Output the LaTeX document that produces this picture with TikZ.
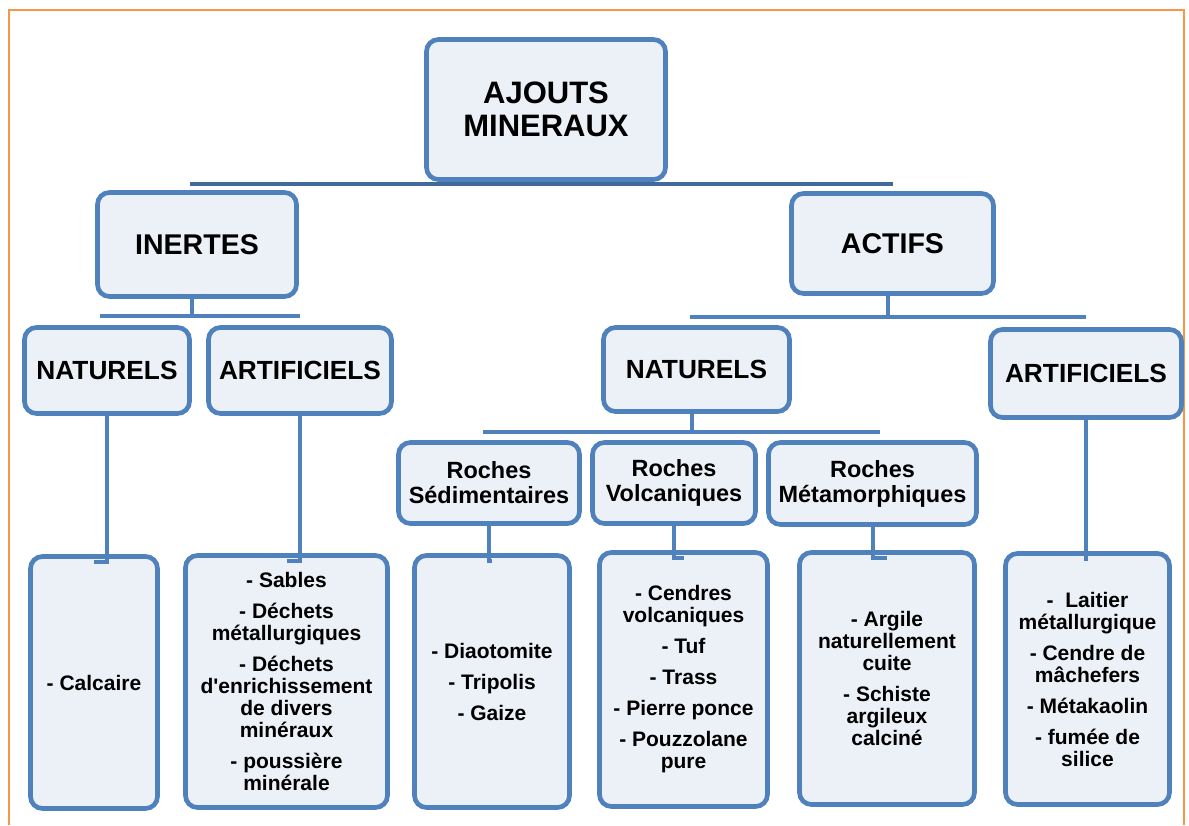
\documentclass[tikz,border=0pt]{standalone}
\usepackage{fontspec}
\setmainfont{Liberation Sans}

\definecolor{boxline}{HTML}{4F81BD}
\definecolor{boxfill}{HTML}{ECF1F8}
\definecolor{busline}{HTML}{3F6A9B}
\definecolor{frameline}{HTML}{F79646}

\tikzset{
  box/.style={draw=boxline, fill=boxfill, line width=3.5pt, rounded corners=9pt,
    align=center, inner sep=0pt},
  boxsize/.style 2 args={minimum width=#1*0.75pt, minimum height=#2*0.75pt},
  rootbox/.style={box, font=\fontsize{23.25}{24.75}\selectfont\bfseries},
  levelone/.style={box, font=\fontsize{21.4}{23}\selectfont\bfseries},
  leveltwo/.style={box, font=\fontsize{19.7}{21}\selectfont\bfseries},
  rockbox/.style={box, font=\fontsize{17.6}{18.75}\selectfont\bfseries},
  listbox/.style={box, font=\fontsize{15.75}{16.5}\selectfont\bfseries},
  link/.style={draw=boxline, line width=3pt},
  bus/.style={draw=busline, line width=3pt}
}

\begin{document}
\begin{tikzpicture}[x=0.75pt,y=0.75pt,yscale=-1,xscale=1]
\useasboundingbox (0,0) rectangle (1189,825);

%Frame
\draw [frameline, line width=1.5pt] (9,825) -- (9,10) -- (1184,10) -- (1184,825) ;

% Top box
\node [rootbox, boxsize={239}{140}] (root) at (546,109.5) {AJOUTS\\MINERAUX};

% Level 1
\node [levelone, boxsize={199}{104}] (ine) at (197,244.5) {INERTES};
\node [levelone, boxsize={202}{100}] (act) at (892.5,243.5) {ACTIFS};

% Level 2
\node [leveltwo, boxsize={165}{86}] (natL) at (107,370.5) {NATURELS};
\node [leveltwo, boxsize={183}{86}] (artL) at (300,370.5) {ARTIFICIELS};
\node [leveltwo, boxsize={186}{84}] (natR) at (696.5,369.5) {NATURELS};
\node [leveltwo, boxsize={191}{88}] (artR) at (1086,373.5) {ARTIFICIELS};

% Rocks
\node [rockbox, boxsize={181}{81}] (sed) at (489,483) {Roches\\Sédimentaires};
\node [rockbox, boxsize={163}{81}] (volc) at (674,483) {Roches\\Volcaniques};
\node [rockbox, boxsize={208}{82}] (meta) at (872.5,483.5) {Roches\\Métamorphiques};

% Lists
\node [listbox, boxsize={127}{252}] (calc) at (94,682.5) {- Calcaire};
\node [listbox, boxsize={202}{252}] (artLc) at (286.5,681.5)
  {- Sables\\[6.75pt]- Déchets\\métallurgiques\\[6.75pt]- Déchets\\d\textquotesingle enrichissement\\de divers\\minéraux\\[6.75pt]- poussière\\minérale};
\node [listbox, boxsize={155}{252}] (sedc) at (492,681.5)
  {- Diaotomite\\[6.75pt]- Tripolis\\[6.75pt]- Gaize};
\node [listbox, boxsize={168}{254}] (volcc) at (683.5,679.5)
  {- Cendres\\volcaniques\\[6.75pt]- Tuf\\[6.75pt]- Trass\\[6.75pt]- Pierre ponce\\[6.75pt]- Pouzzolane\\pure};
\node [listbox, boxsize={175}{252}] (metac) at (887,678.5)
  {- Argile\\naturellement\\cuite\\[6.75pt]- Schiste\\argileux\\calciné};
\node [listbox, boxsize={164}{251}] (artRc) at (1087.5,679)
  {-~~Laitier\\métallurgique\\[6.75pt]- Cendre de\\mâchefers\\[6.75pt]- Métakaolin\\[6.75pt]- fumée de\\silice};

%Bus levels
\coordinate (busA) at (0,184);
\coordinate (busB) at (0,316);
\coordinate (busC) at (0,317);
\coordinate (busD) at (0,432);

%Straight Lines
\draw [bus] ([xshift=-5.25pt]ine.center |- busA) -- (act.center |- busA) ;
\draw [link] ([xshift=-3.75pt]ine.south) -- ([xshift=-3.75pt]ine.south |- busB) ;
\draw [link] ([xshift=-5.25pt]natL.center |- busB) -- (artL.center |- busB) ;
\draw [link] ([xshift=-3.75pt]act.south) -- ([xshift=-3.75pt]act.south |- busC) ;
\draw [link] ([xshift=-5.25pt]natR.center |- busC) -- (artR.center |- busC) ;
\draw [link] ([xshift=-3.75pt]natR.south) -- ([xshift=-3.75pt]natR.south |- busD) ;
\draw [link] ([xshift=-4.5pt]sed.center |- busD) -- ([xshift=5.25pt]meta.center |- busD) ;

%Hooked Lines
\draw [link] (natL.south) |- ([yshift=6pt]calc.north) ;
\draw [link] (artL.south) |- ([yshift=6pt]artLc.north) ;
\draw [link] (sed.south) |- ([yshift=6pt]sedc.north) ;
\draw [link] (volc.south) |- ([yshift=6pt]volcc.north) ;
\draw [link] (meta.south) |- ([yshift=6pt]metac.north) ;
\draw [link] (artR.south) |- ([yshift=6pt]artRc.north) ;

\end{tikzpicture}
\end{document}
